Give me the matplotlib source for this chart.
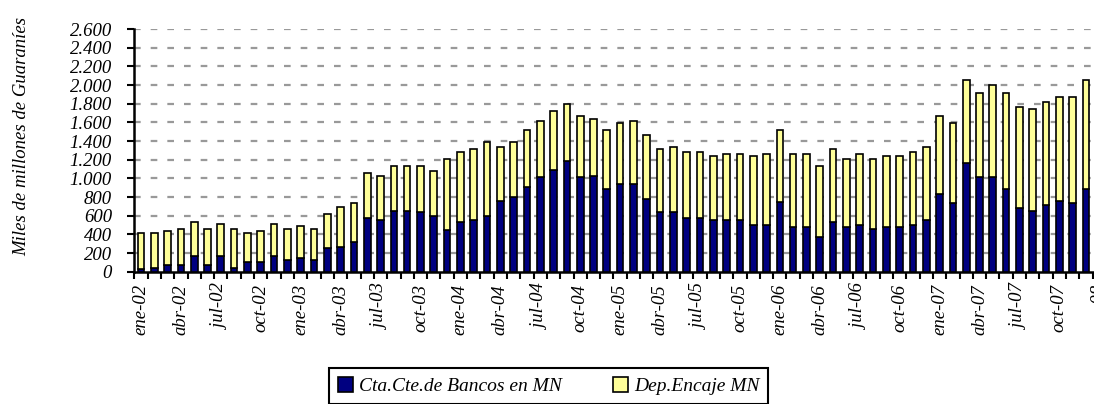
import matplotlib
matplotlib.use("Agg")
import matplotlib.pyplot as plt
from matplotlib.ticker import FuncFormatter, FixedLocator
import numpy as np

# meses ene-02 .. ene-08 (el ultimo queda cortado en el borde)
meses = ['ene', 'feb', 'mar', 'abr', 'may', 'jun', 'jul', 'ago', 'sep', 'oct', 'nov', 'dic']
categorias = [m + '-' + str(a).zfill(2) for a in range(2, 8) for m in meses] + ['ene-08']

# Cta.Cte. de Bancos en MN (parte inferior)
cta_cte = [25, 45, 70, 70, 170, 70, 170, 45, 100, 100, 170, 125,
           145, 125, 250, 270, 320, 580, 555, 650, 650, 635, 600, 450,
           530, 555, 600, 760, 805, 905, 1015, 1085, 1185, 1010, 1030, 885,
           940, 940, 780, 635, 635, 580, 580, 555, 555, 555, 500, 500,
           750, 475, 475, 375, 530, 475, 500, 455, 475, 475, 500, 555,
           835, 735, 1165, 1010, 1010, 885, 680, 655, 710, 760, 735, 885]
# totales
total = [420, 420, 435, 460, 535, 460, 515, 460, 420, 435, 515, 460,
         485, 460, 620, 690, 740, 1055, 1030, 1135, 1135, 1135, 1080, 1210,
         1285, 1310, 1385, 1335, 1385, 1515, 1620, 1720, 1795, 1670, 1640, 1515,
         1590, 1620, 1460, 1310, 1335, 1285, 1285, 1235, 1260, 1260, 1235, 1260,
         1515, 1260, 1260, 1135, 1310, 1210, 1260, 1210, 1235, 1235, 1285, 1335,
         1670, 1590, 2050, 1920, 2000, 1920, 1770, 1740, 1820, 1870, 1870, 2050]
encaje = list(np.array(total) - np.array(cta_cte))

fuente = 'Liberation Serif'
plt.rcParams['font.family'] = [fuente, 'DejaVu Serif']
plt.rcParams['font.style'] = 'italic'

fig = plt.figure(figsize=(10.94, 4.04), dpi=100)
ax = fig.add_axes([134.3 / 1094, 132.3 / 404, 73 * 13.31 / 1094, 242.6 / 404])

x = np.arange(len(cta_cte))
ax.bar(x, cta_cte, width=0.5, color='#000080', edgecolor='black', linewidth=1.2,
       label='Cta.Cte.de Bancos en MN', zorder=3)
ax.bar(x, encaje, width=0.5, bottom=cta_cte, color='#FFFF99', edgecolor='black',
       linewidth=1.2, label='Dep.Encaje MN', zorder=3)

ax.set_xlim(-0.5, len(categorias) - 0.5)
ax.set_ylim(0, 2600)
ax.set_yticks(np.arange(0, 2601, 200))
ax.yaxis.set_major_formatter(FuncFormatter(lambda v, p: '{:,.0f}'.format(v).replace(',', '.')))
for v in np.arange(200, 2601, 200):
    ax.axhline(v, color='#999999', lw=1.6, linestyle=(0, (3, 4.5)), zorder=1)

pos = list(range(0, len(categorias), 3))
ax.set_xticks(pos)
ax.set_xticklabels([categorias[i] for i in pos], rotation=90, fontsize=13.5)
ax.xaxis.set_minor_locator(FixedLocator(np.arange(-0.5, len(categorias), 1)))
ax.tick_params(axis='x', which='major', length=0, pad=9)
ax.tick_params(axis='x', which='minor', length=5, width=1.5, direction='out')
ax.tick_params(axis='y', length=5, width=1.5, direction='out', labelsize=13.5, pad=11)

for s in ['top', 'right']:
    ax.spines[s].set_visible(False)
for s in ['left', 'bottom']:
    ax.spines[s].set_linewidth(1.8)

fig.text(22 / 1094, 1 - 136 / 404, 'Miles de millones de Guaraníes', rotation=90,
         ha='center', va='center', fontsize=13.5)

leg = fig.legend(loc='upper left', bbox_to_anchor=(329 / 1094, 1 - 368 / 404), ncol=2,
                 fancybox=False, edgecolor='black', fontsize=14, handlelength=0.8,
                 handleheight=0.8, columnspacing=2.6, handletextpad=0.3, borderpad=0.45,
                 borderaxespad=0, framealpha=1)
leg.get_frame().set_linewidth(1.5)

fig.savefig('out.png', dpi=100)
